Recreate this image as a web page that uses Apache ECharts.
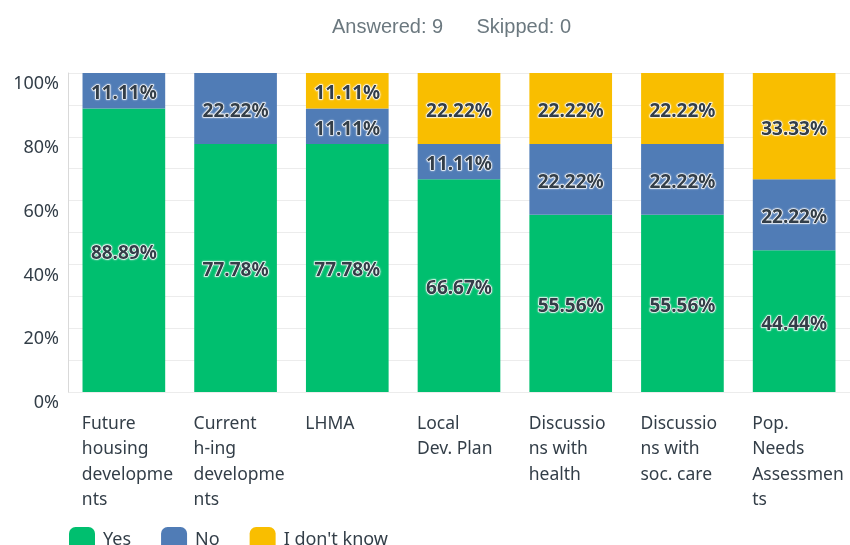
<!DOCTYPE html>
<html>
<head>
<meta charset="utf-8">
<script src="https://cdn.jsdelivr.net/npm/echarts@6/dist/echarts.min.js"></script>
<style>
  html, body { margin: 0; padding: 0; background: #fff; }
  #chart { width: 850px; height: 545px; }
</style>
</head>
<body>
<div id="chart"></div>
<script>
// categories (line breaks as shown under the bars)
const categories = [
  'Future\nhousing\ndevelopme\nnts',
  'Current\nh-ing\ndevelopme\nnts',
  'LHMA',
  'Local\nDev. Plan',
  'Discussio\nns with\nhealth',
  'Discussio\nns with\nsoc. care',
  'Pop.\nNeeds\nAssessmen\nts'
]
const yesValues = [88.89, 77.78, 77.78, 66.67, 55.56, 55.56, 44.44]
const noValues = [11.11, 22.22, 11.11, 11.11, 22.22, 22.22, 22.22]
const dontKnowValues = [0, 0, 11.11, 22.22, 22.22, 22.22, 33.33]
const yTicks = [0, 20, 40, 60, 80, 100]

const chart = echarts.init(document.getElementById('chart'))

const fontFam = '"Noto Sans", "Open Sans", sans-serif'
const textColor = '#333e48'

function barLabel() {
  return {
    show: true,
    position: 'inside',
    offset: [0, 3],
    formatter: p => (p.value > 0 ? p.value.toFixed(2) + '%' : ''),
    fontFamily: fontFam,
    fontSize: 19,
    fontWeight: 'bold',
    color: textColor,
    textBorderColor: '#ffffff',
    textBorderWidth: 1.2,
    // white halo round the dark text
    textShadowColor: '#ffffff',
    textShadowBlur: 2
  }
}

function makeSeries(name, data, color) {
  return {
    name: name,
    type: 'bar',
    stack: 'total',
    data: data,
    barCategoryGap: '26%',
    itemStyle: { color: color },
    label: barLabel()
  }
}

chart.setOption({
  animation: false,
  title: {
    text: 'Answered: 9      Skipped: 0',
    left: 327,
    top: 12,
    textStyle: {
      fontFamily: '"Liberation Sans", Arial, sans-serif',
      fontSize: 20,
      fontWeight: 'normal',
      color: '#6b787f'
    }
  },
  grid: {
    left: 68,
    top: 73,
    width: 791,
    bottom: 153,
    containLabel: false
  },
  legend: {
    left: 64,
    top: 522,
    itemWidth: 26,
    itemHeight: 26,
    itemGap: 30,
    icon: 'roundRect',
    textStyle: {
      fontFamily: fontFam,
      fontSize: 18,
      color: textColor,
      padding: [0, 0, 0, 3]
    },
    data: ['Yes', 'No', "I don't know"]
  },
  xAxis: {
    type: 'category',
    data: categories,
    axisLine: { show: false },
    axisTick: { show: false },
    axisLabel: {
      interval: 0,
      margin: 19,
      align: 'center',
      formatter: v => v.split('\n').map(s => '{a|' + s + '}').join('\n'),
      rich: {
        a: {
          width: 84,
          align: 'left',
          fontFamily: fontFam,
          fontSize: 17.5,
          lineHeight: 25.5,
          color: textColor
        }
      }
    }
  },
  yAxis: {
    type: 'value',
    min: 0,
    max: 100,
    interval: 10,
    axisLine: { show: true, lineStyle: { color: '#d9d9d9' } },
    axisTick: { show: false },
    splitLine: { lineStyle: { color: '#ececec' } },
    axisLabel: {
      margin: 9,
      verticalAlign: 'top',
      padding: [2, 0, 0, 0],
      fontFamily: fontFam,
      fontSize: 18,
      color: textColor,
      formatter: v => (yTicks.indexOf(v) >= 0 ? v + '%' : '')
    }
  },
  series: [
    makeSeries('Yes', yesValues, '#00bf6f'),
    makeSeries('No', noValues, '#507cb6'),
    makeSeries("I don't know", dontKnowValues, '#f9be00')
  ]
})
</script>
</body>
</html>
